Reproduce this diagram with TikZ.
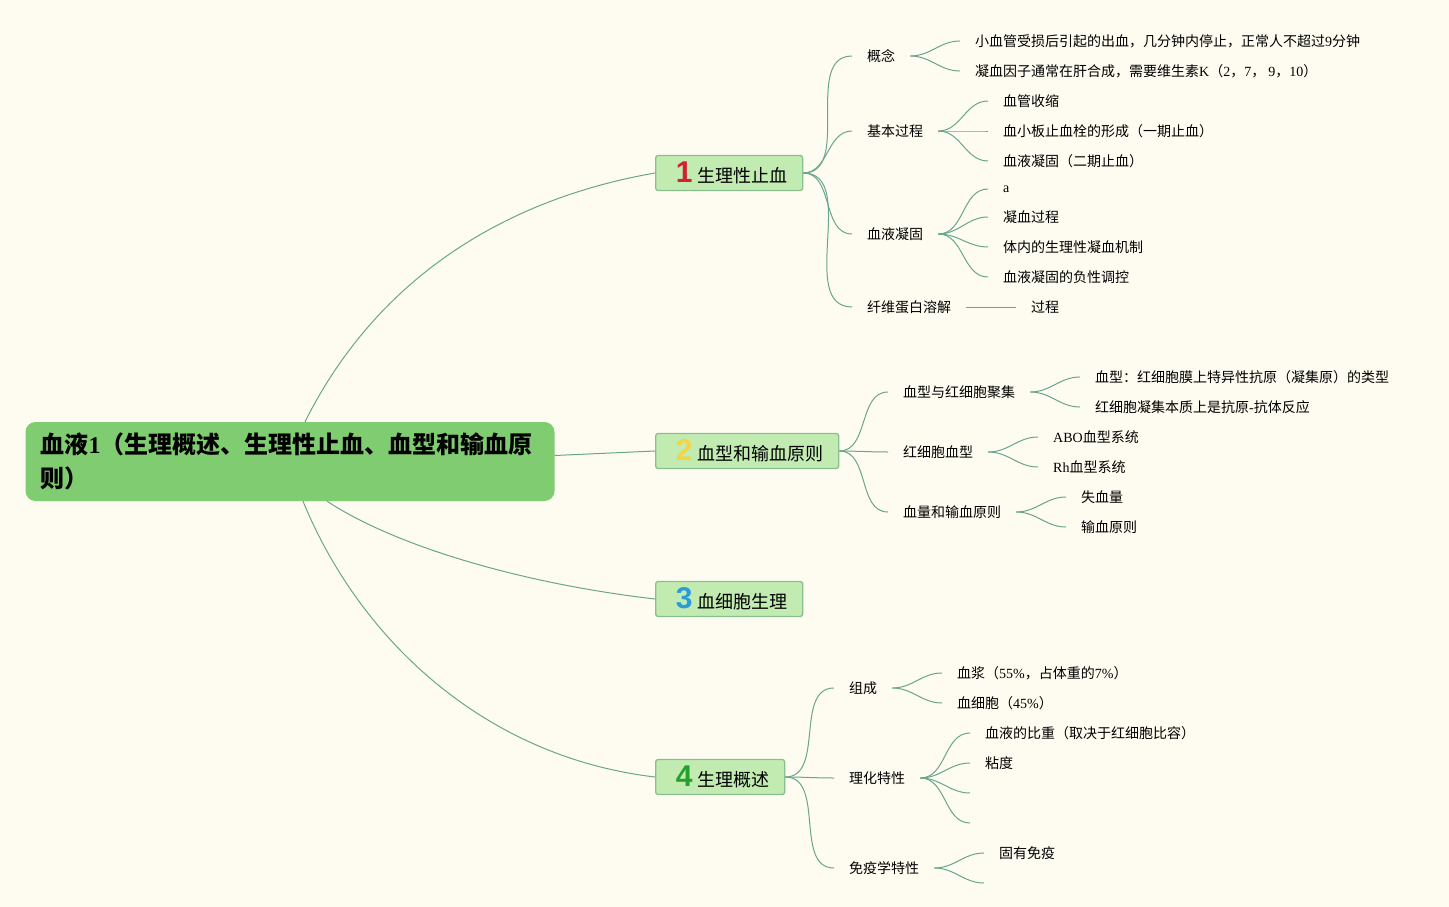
\documentclass[tikz,border=0pt]{standalone}
\usepackage{fontspec}
\setmainfont{Noto Sans CJK SC}
\newfontfamily\lat{Liberation Serif}
\newfontfamily\badge{Liberation Sans}
\definecolor{paper}{HTML}{FEFCF1}
\definecolor{rootgreen}{HTML}{80CC70}
\definecolor{boxgreen}{HTML}{C2EBB2}
\definecolor{boxline}{HTML}{88BF8E}
\definecolor{linkgreen}{HTML}{6AA58E}
\definecolor{one}{HTML}{D42030}
\definecolor{two}{HTML}{F3D445}
\definecolor{three}{HTML}{2B9BD9}
\definecolor{four}{HTML}{24A02B}
\tikzset{
  rootbox/.style={fill=rootgreen, rounded corners=10pt, minimum width=529pt, minimum height=79pt,
    inner sep=0pt, text width=499pt, align=left, font=\fontsize{24}{34}\selectfont\bfseries},
  mainbox/.style={draw=boxline, fill=boxgreen, line width=1.3pt, rounded corners=2.5pt,
    minimum height=35pt, inner xsep=15pt, inner ysep=0pt, anchor=west, font=\fontsize{18}{18}\selectfont},
  topic/.style={anchor=west, inner xsep=15pt, inner ysep=2pt, font=\fontsize{14}{16}\selectfont},
  link/.style={draw=linkgreen, line width=1pt},
}
\newcommand{\numtag}[2]{\makebox[27pt][c]{\badge\fontsize{30}{30}\selectfont\bfseries\color{#1}#2}}

\begin{document}
\begin{tikzpicture}[x=1pt,y=-1pt]
			%%%%% START %%%%%
			
			\fill[paper] (0,0) rectangle (1449,907);
			\useasboundingbox (0,0) rectangle (1449,907);
			
			\node[rootbox] (root) at (290,461.5) {血液{\lat\bfseries 1}（生理概述、生理性止血、血型和输血原\\则）};
			
			\node[mainbox] (hemo) at (655,173) {\numtag{one}{1}生理性止血};
			\node[mainbox] (blood) at (655,451) {\numtag{two}{2}血型和输血原则};
			\node[mainbox] (cell) at (655,599) {\numtag{three}{3}血细胞生理};
			\node[mainbox] (basic) at (655,777) {\numtag{four}{4}生理概述};
			
			\draw[link] ([xshift=15pt]root.north) .. controls +(70,-140) and +(-155,27) .. (hemo.west);
			\draw[link] ([yshift=6pt]root.east) -- (blood.west);
			\draw[link] ([xshift=37pt]root.south) .. controls +(70,46) and +(-130,-15) .. (cell.west);
			\draw[link] ([xshift=13pt]root.south) .. controls +(57,139) and +(-170,-20) .. (basic.west);
			
			% 1
			\node[topic] (concept) at (852,56) {概念};
			\node[topic] (process) at (852,131) {基本过程};
			\node[topic] (clot) at (852,234) {血液凝固};
			\node[topic] (fibrin) at (852,307) {纤维蛋白溶解};
			
			\node[topic] (c1) at (960,41) {小血管受损后引起的出血，几分钟内停止，正常人不超过{\lat 9}分钟};
			\node[topic] (c2) at (960,71) {凝血因子通常在肝合成，需要维生素{\lat K}（{\lat 2}，{\lat 7}， {\lat 9}，{\lat 10}）};
			\node[topic] (p1) at (988,101) {血管收缩};
			\node[topic] (p2) at (988,131) {血小板止血栓的形成（一期止血）};
			\node[topic] (p3) at (988,161) {血液凝固（二期止血）};
			\node[topic] (k1) at (988,189) {{\lat a}};
			\node[topic] (k2) at (988,217) {凝血过程};
			\node[topic] (k3) at (988,247) {体内的生理性凝血机制};
			\node[topic] (k4) at (988,277) {血液凝固的负性调控};
			\node[topic] (f1) at (1016,307) {过程};
			
			\foreach \t in {concept,process,clot,fibrin}
				\draw[link] (hemo.east) to[out=0,in=180] (\t.west);
			\foreach \t in {c1,c2}
				\draw[link] (concept.east) to[out=0,in=180] (\t.west);
			\foreach \t in {p1,p2,p3}
				\draw[link] (process.east) to[out=0,in=180] (\t.west);
			\foreach \t in {k1,k2,k3,k4}
				\draw[link] (clot.east) to[out=0,in=180] (\t.west);
			\draw[link] (fibrin.east) -- (f1.west);
			
			% 2
			\node[topic] (group) at (888,392) {血型与红细胞聚集};
			\node[topic] (rbc) at (888,452) {红细胞血型};
			\node[topic] (volume) at (888,512) {血量和输血原则};
			
			\node[topic] (g1) at (1080,377) {血型：红细胞膜上特异性抗原（凝集原）的类型};
			\node[topic] (g2) at (1080,407) {红细胞凝集本质上是抗原{\lat -}抗体反应};
			\node[topic] (r1) at (1038,437) {{\lat ABO}血型系统};
			\node[topic] (r2) at (1038,467) {{\lat Rh}血型系统};
			\node[topic] (v1) at (1066,497) {失血量};
			\node[topic] (v2) at (1066,527) {输血原则};
			
			\foreach \t in {group,rbc,volume}
				\draw[link] (blood.east) to[out=0,in=180] (\t.west);
			\foreach \t in {g1,g2}
				\draw[link] (group.east) to[out=0,in=180] (\t.west);
			\foreach \t in {r1,r2}
				\draw[link] (rbc.east) to[out=0,in=180] (\t.west);
			\foreach \t in {v1,v2}
				\draw[link] (volume.east) to[out=0,in=180] (\t.west);
			
			% 4
			\node[topic] (comp) at (834,688) {组成};
			\node[topic] (phys) at (834,778) {理化特性};
			\node[topic] (immune) at (834,868) {免疫学特性};
			
			\node[topic] (m1) at (942,673) {血浆（{\lat 55\%}，占体重的{\lat 7\%}）};
			\node[topic] (m2) at (942,703) {血细胞（{\lat 45\%}）};
			\node[topic] (h1) at (970,733) {血液的比重（取决于红细胞比容）};
			\node[topic] (h2) at (970,763) {粘度};
			\coordinate (h3) at (970,793);
			\coordinate (h4) at (970,823);
			\node[topic] (i1) at (984,853) {固有免疫};
			\coordinate (i2) at (984,883);
			
			\foreach \t in {comp,phys,immune}
				\draw[link] (basic.east) to[out=0,in=180] (\t.west);
			\foreach \t in {m1,m2}
				\draw[link] (comp.east) to[out=0,in=180] (\t.west);
			\foreach \t in {h1,h2,h3,h4}
				\draw[link] (phys.east) to[out=0,in=180] (\t.west);
			\foreach \t in {i1,i2}
				\draw[link] (immune.east) to[out=0,in=180] (\t.west);
			
			%%%%% END %%%%%
\end{tikzpicture}
\end{document}
